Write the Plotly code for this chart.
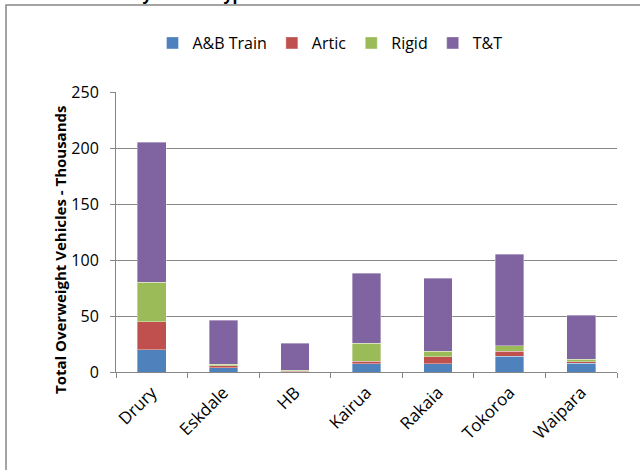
import plotly.graph_objects as go

sites = ["Drury", "Eskdale", "HB", "Kairua", "Rakaia", "Tokoroa", "Waipara"]
ab_train = [20, 4, 0, 7.5, 7.5, 14, 8]
artic = [25, 1.5, 0.5, 2, 6, 4.5, 1]
rigid = [35, 1.5, 1, 16, 5, 5, 2.5]
tt = [125, 39, 24, 62.5, 65, 81.5, 39]

series = [
    ("A&B Train", ab_train, "#4F81BD"),
    ("Artic", artic, "#C0504D"),
    ("Rigid", rigid, "#9BBB59"),
    ("T&T", tt, "#8064A2"),
]

font_family = "'Open Sans', 'Noto Sans', sans-serif"
grid = "#868686"

fig = go.Figure()
for name, vals, color in series:
    fig.add_trace(go.Bar(
        x=sites, y=vals, name=name,
        marker=dict(color=color, line=dict(color="rgba(255,255,255,0.6)", width=0.6)),
    ))

fig.update_layout(
    width=640, height=470,
    barmode="stack", bargap=0.6,
    paper_bgcolor="white", plot_bgcolor="white",
    margin=dict(l=116, r=23, t=92, b=98),
    font=dict(family=font_family, size=15, color="#000000"),
    showlegend=True,
    legend=dict(
        orientation="h", x=330 / 640, xanchor="center", xref="container",
        y=1 - 43 / 470, yanchor="middle", yref="container",
        font=dict(size=16), itemwidth=30, traceorder="normal",
    ),
)

fig.update_yaxes(
    range=[0, 250], dtick=50,
    showgrid=True, gridcolor=grid, gridwidth=1,
    showline=True, linecolor=grid, linewidth=1,
    ticks="outside", ticklen=5, tickcolor=grid, ticklabelstandoff=8,
    tickfont=dict(size=16), zeroline=False,
)
fig.update_xaxes(
    showline=True, linecolor=grid, linewidth=1,
    ticks="outside", ticklen=5, tickcolor=grid, tickson="boundaries",
    tickangle=-45, tickfont=dict(size=17), ticklabelstandoff=3,
)

# Vertical axis title
fig.add_annotation(
    text="<b>Total Overweight Vehicles - Thousands</b>",
    xref="paper", yref="paper", x=-56 / 501, y=(372 - 250) / 280,
    textangle=-90, showarrow=False, font=dict(size=15),
    xanchor="center", yanchor="middle",
)

# Chart title (second line, running off the top edge)
fig.add_annotation(
    text="<b>and by vehicle type</b>",
    xref="paper", yref="paper", x=(175 - 116) / 501, y=(372 - 7) / 280,
    showarrow=False, font=dict(size=16),
    xanchor="center", yanchor="bottom",
)

# Outer chart frame
fig.add_shape(
    type="rect", xref="paper", yref="paper",
    x0=(6 - 116) / 501, x1=(660 - 116) / 501,
    y0=(372 - 490) / 280, y1=(372 - 5) / 280,
    line=dict(color="#868686", width=1.5), fillcolor="rgba(0,0,0,0)",
    layer="below",
)

fig.write_html("out.html")
